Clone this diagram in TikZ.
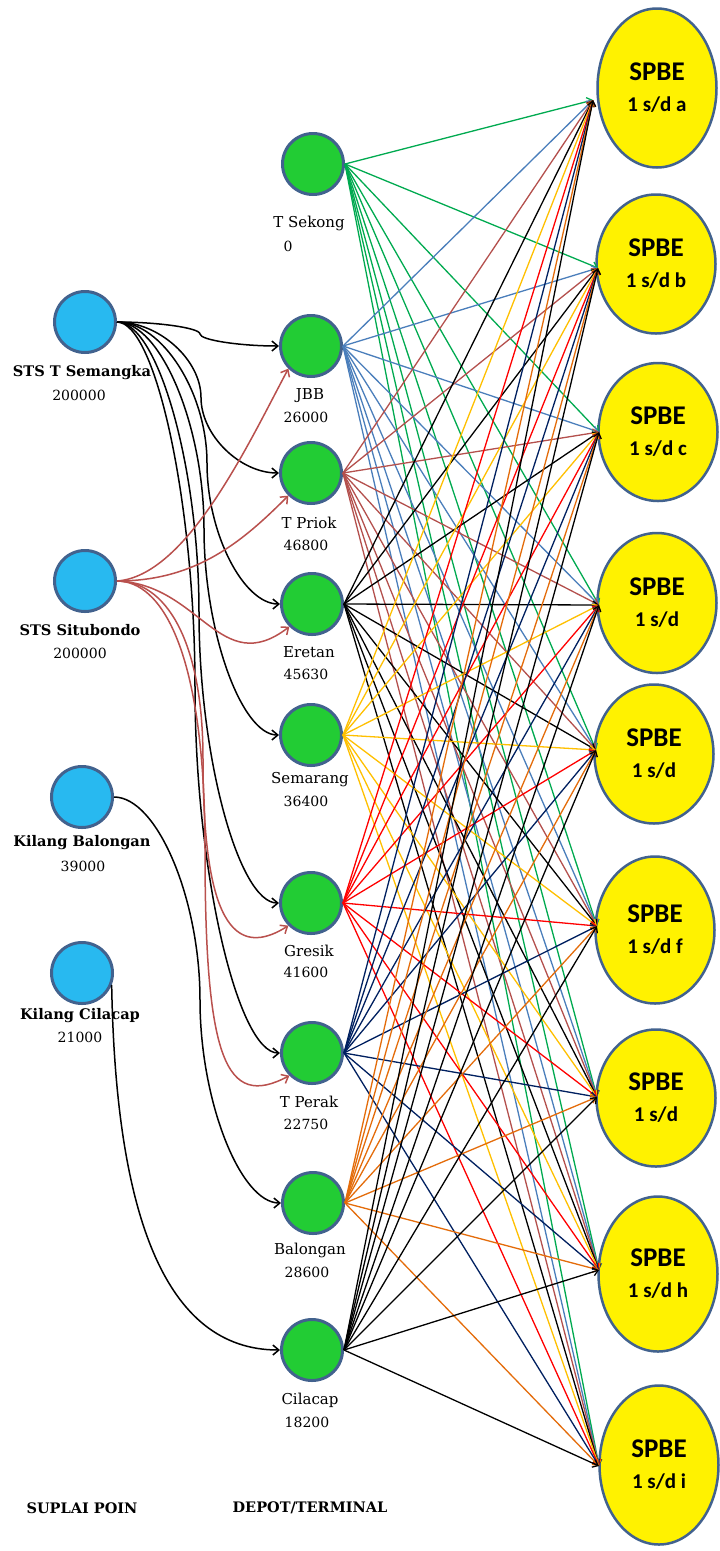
\documentclass[tikz,border=0pt]{standalone}
\usepackage{fontspec}
\setmainfont{DejaVu Serif}
\newfontfamily\spbefont{Carlito}
\usetikzlibrary{arrows.meta,calc,shapes.geometric}

\definecolor{rim}{RGB}{66,98,142}
\definecolor{supfill}{RGB}{40,185,240}
\definecolor{depfill}{RGB}{34,204,52}
\definecolor{feedred}{RGB}{185,80,77}
\definecolor{cSekong}{RGB}{0,170,80}
\definecolor{cJBB}{RGB}{74,126,187}
\definecolor{cPriok}{RGB}{180,80,77}
\definecolor{cEretan}{RGB}{0,0,0}
\definecolor{cSemarang}{RGB}{255,192,0}
\definecolor{cGresik}{RGB}{255,0,0}
\definecolor{cPerak}{RGB}{0,32,96}
\definecolor{cBalongan}{RGB}{228,108,10}
\definecolor{cCilacap}{RGB}{0,0,0}

\tikzset{
  supply/.style={circle,draw=rim,line width=3pt,fill=supfill,minimum size=61pt,inner sep=0pt},
  depot/.style={circle,draw=rim,line width=3pt,fill=depfill,minimum size=61pt,inner sep=0pt},
  spbe/.style={ellipse,draw=rim,line width=2.5pt,fill=yellow,minimum width=119pt,
               inner sep=0pt,align=center,font=\spbefont\bfseries\fontsize{27}{32}\selectfont},
  suplabel/.style={font=\bfseries\fontsize{14.6}{16}\selectfont,inner sep=0pt},
  numlabel/.style={font=\fontsize{14}{16}\selectfont,inner sep=0pt},
  deplabel/.style={font=\fontsize{15}{16}\selectfont,inner sep=0pt},
  headlabel/.style={font=\bfseries\fontsize{14.5}{16}\selectfont,inner sep=0pt},
  feed/.style={line width=1.5pt,-{Straight Barb[length=6pt,width=10pt]}},
  route/.style={line width=1.3pt,-{Straight Barb[length=5pt,width=8pt]}},
  elbow/.style={to path={
    let \p1=(\tikztostart), \p2=(\tikztotarget) in
    .. controls ({(\x1+#1pt)/2},\y1) and (#1pt,{(3*\y1+\y2)/4}) .. (#1pt,{(\y1+\y2)/2})
    .. controls (#1pt,{(\y1+3*\y2)/4}) and ({(#1pt+\x2)/2},\y2) .. (\tikztotarget)}},
}

\newcommand{\spbetext}[1]{SPBE\\[-1pt]{\fontsize{21}{32}\selectfont #1}}

\begin{document}
\begin{tikzpicture}[x=1pt,y=1pt]
\useasboundingbox (0,0) rectangle (720,-1551);
\fill[white] (0,0) rectangle (720,-1551);

% supply points
\node[supply] (Semangka)  at (85,-322) {};
\node[supply] (Situbondo) at (85,-581) {};
\node[supply] (KBalongan) at (82,-797) {};
\node[supply] (KCilacap)  at (82,-973) {};

\node[suplabel] (lSemangka)  at (82,-373)  {STS T Semangka};
\node[numlabel] (nSemangka)  at (79,-395)  {200000};
\node[suplabel] (lSitubondo) at (80,-630)  {STS Situbondo};
\node[numlabel] (nSitubondo) at (80,-653)  {200000};
\node[suplabel] (lKBalongan) at (82,-843)  {Kilang Balongan};
\node[numlabel] (nKBalongan) at (83,-866)  {39000};
\node[suplabel] (lKCilacap)  at (80,-1016) {Kilang Cilacap};
\node[numlabel] (nKCilacap)  at (80,-1037) {21000};

% depots / terminals
\node[depot] (Sekong)   at (313,-164)  {};
\node[depot] (JBB)      at (311,-346)  {};
\node[depot] (Priok)    at (311,-473)  {};
\node[depot] (Eretan)   at (312,-604)  {};
\node[depot] (Semarang) at (311,-735)  {};
\node[depot] (Gresik)   at (311,-903)  {};
\node[depot] (Perak)    at (312,-1053) {};
\node[depot] (Balongan) at (313,-1203) {};
\node[depot] (Cilacap)  at (312,-1350) {};

\node[deplabel] (lSekong)   at (309,-223)  {T Sekong};
\node[numlabel] (nSekong)   at (288,-246)  {0};
\node[deplabel] (lJBB)      at (310,-396)  {JBB};
\node[numlabel] (nJBB)      at (306,-417)  {26000};
\node[deplabel] (lPriok)    at (309,-523)  {T Priok};
\node[numlabel] (nPriok)    at (306,-545)  {46800};
\node[deplabel] (lEretan)   at (309,-652)  {Eretan};
\node[numlabel] (nEretan)   at (306,-674)  {45630};
\node[deplabel] (lSemarang) at (310,-780)  {Semarang};
\node[numlabel] (nSemarang) at (306,-801)  {36400};
\node[deplabel] (lGresik)   at (309,-951)  {Gresik};
\node[numlabel] (nGresik)   at (306,-972)  {41600};
\node[deplabel] (lPerak)    at (309,-1102) {T Perak};
\node[numlabel] (nPerak)    at (306,-1124) {22750};
\node[deplabel] (lBalongan) at (310,-1250) {Balongan};
\node[numlabel] (nBalongan) at (307,-1272) {28600};
\node[deplabel] (lCilacap)  at (310,-1400) {Cilacap};
\node[numlabel] (nCilacap)  at (307,-1422) {18200};

% SPBE destinations
\node[spbe,minimum height=159pt] (Sa) at (657,-88)   {\spbetext{1 s/d a}};
\node[spbe,minimum height=139pt] (Sb) at (656,-264)  {\spbetext{1 s/d b}};
\node[spbe,minimum height=138pt] (Sc) at (658,-432)  {\spbetext{1 s/d c}};
\node[spbe,minimum height=140pt] (Sd) at (657,-603)  {\spbetext{1 s/d}};
\node[spbe,minimum height=139pt] (Se) at (654,-754)  {\spbetext{1 s/d}};
\node[spbe,minimum height=147pt] (Sf) at (655,-930)  {\spbetext{1 s/d f}};
\node[spbe,minimum height=137pt] (Sg) at (656,-1098) {\spbetext{1 s/d}};
\node[spbe,minimum height=155pt] (Sh) at (658,-1274) {\spbetext{1 s/d h}};
\node[spbe,minimum height=159pt] (Si) at (659,-1465) {\spbetext{1 s/d i}};

% arrival points on the left rim of each SPBE
\coordinate (ina) at (593,-100);
\coordinate (inb) at (598,-268);
\coordinate (inc) at (599,-432);
\coordinate (ind) at (599,-605);
\coordinate (ine) at (596,-750);
\coordinate (inf) at (597,-926);
\coordinate (ing) at (597,-1097);
\coordinate (inh) at (599,-1270);
\coordinate (ini) at (599,-1466);

% headings
\node[headlabel] (hSupply) at (82,-1508)  {SUPLAI POIN};
\node[headlabel] (hDepot)  at (310,-1508) {DEPOT/TERMINAL};

% supply -> depot, STS T Semangka
\draw[feed] (Semangka.east) to[elbow=200] (JBB.west);
\draw[feed] (Semangka.east) to[elbow=201] (Priok.west);
\draw[feed] (Semangka.east) to[elbow=207] (Eretan.west);
\draw[feed] (Semangka.east) to[elbow=204] (Semarang.west);
\draw[feed] (Semangka.east) to[elbow=199] (Gresik.west);
\draw[feed] (Semangka.east) to[elbow=195] (Perak.west);

% supply -> depot, STS Situbondo
\draw[feed,feedred] (Situbondo.east) .. controls +(70,5) and +(-40,-75) .. (JBB.south west);
\draw[feed,feedred] (Situbondo.east) .. controls +(80,0) and +(-45,-45) .. (Priok.south west);
\draw[feed,feedred] (Situbondo.east) .. controls +(83,-3) and +(-69,-53) .. (Eretan.south west);
\draw[feed,feedred] (Situbondo.east) .. controls +(48,0) and +(0,120) .. ++(86,-178)
                    .. controls +(0,-140) and +(-63,-40) .. (Gresik.south west);
\draw[feed,feedred] (Situbondo.east) .. controls +(44,0) and +(0,200) .. ++(88,-268)
                    .. controls +(0,-210) and +(-64,-34) .. (Perak.south west);

% supply -> depot, refineries
\draw[feed] (KBalongan.east) to[elbow=200] (Balongan.west);
\draw[feed] (KCilacap.-22) .. controls +(4,-230) and +(-115,0) .. (Cilacap.west);

% depot -> SPBE routes
\foreach \d/\c in {Sekong/cSekong,JBB/cJBB,Priok/cPriok,Eretan/cEretan,Semarang/cSemarang,
                   Gresik/cGresik,Perak/cPerak,Balongan/cBalongan,Cilacap/cCilacap}{
  \foreach \s in {a,b,c,d,e,f,g,h,i}{
    \draw[route,draw=\c] (\d.east) -- (in\s);
  }
}
\end{tikzpicture}
\end{document}
